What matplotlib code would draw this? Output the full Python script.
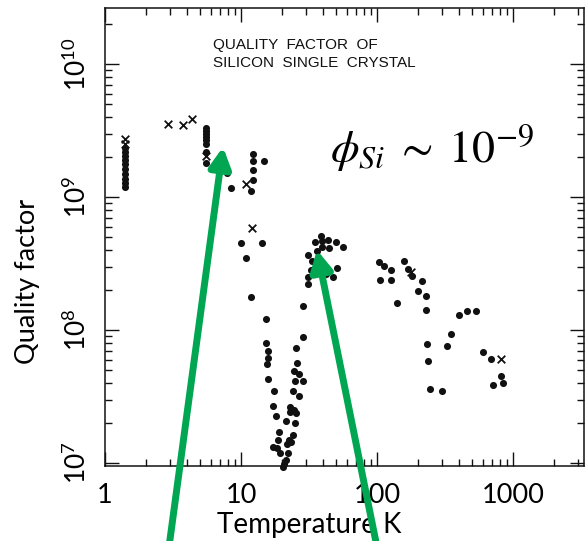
import matplotlib
matplotlib.use('Agg')
import matplotlib.pyplot as plt
from matplotlib import ticker

plt.rcParams['font.family'] = ['Lato', 'DejaVu Sans']
plt.rcParams['mathtext.fontset'] = 'stix'

# measured Q of the silicon crystal vs temperature (K)
dot_T = [
    1.40, 1.40, 1.40, 1.40, 1.40, 1.40, 1.40, 1.40, 1.40, 1.40,
    5.53, 5.53, 5.53, 5.53, 5.53, 5.53, 5.53, 5.53,
    7.89, 8.44, 12.3, 12.3, 12.3, 12.3, 11.8, 14.8, 10.0, 14.3, 10.9, 11.8,
    15.3, 15.3, 15.8, 15.8, 15.5, 15.8, 17.5, 17.2, 18.1, 19.0, 18.7, 17.2,
    18.4, 19.4, 20.4,
    28.6, 28.6, 25.4, 25.8, 24.5, 26.7, 25.0, 28.6, 24.1, 26.7, 22.9, 24.5,
    25.4, 22.9, 21.4, 25.0, 24.1, 22.5, 21.8, 23.3, 22.2, 21.4, 20.7,
    38.7, 35.0, 39.4, 43.6, 50.0, 56.2, 39.4, 44.4, 36.2, 31.1, 33.3, 32.7,
    31.1, 31.1, 50.8, 47.5, 42.2,
    103, 113, 127, 158, 169, 181, 105, 127, 214, 200, 229, 140, 229,
    401, 459, 535, 350, 327, 233, 237, 602, 689, 816, 713, 844, 245, 301,
]
dot_Q = [
    2.34e9, 2.18e9, 2.03e9, 1.90e9, 1.77e9, 1.62e9, 1.49e9, 1.37e9, 1.27e9, 1.19e9,
    3.30e9, 3.14e9, 2.98e9, 2.83e9, 2.68e9, 2.50e9, 2.18e9, 1.80e9,
    1.51e9, 1.17e9, 2.11e9, 1.87e9, 1.60e9, 1.34e9, 1.11e9, 1.87e9, 4.51e8, 4.51e8, 3.48e8, 1.77e8,
    1.21e8, 7.99e7, 6.95e7, 6.16e7, 5.55e7, 4.28e7, 3.48e7, 2.68e7, 2.26e7, 1.71e7, 1.49e7, 1.32e7,
    1.30e7, 1.19e7, 9.33e6,
    1.51e8, 8.86e7, 7.32e7, 5.65e7, 4.92e7, 4.67e7, 4.14e7, 4.14e7, 3.48e7, 3.19e7, 2.64e7, 2.50e7,
    2.38e7, 2.42e7, 2.07e7, 2.00e7, 1.62e7, 1.49e7, 1.39e7, 1.44e7, 1.19e7, 1.05e7, 9.83e6,
    5.09e8, 4.59e8, 4.67e8, 4.75e8, 4.59e8, 4.21e8, 4.21e8, 4.14e8, 3.93e8, 3.66e8, 3.30e8, 2.83e8,
    2.50e8, 2.22e8, 2.92e8, 2.50e8, 2.64e8,
    3.25e8, 3.03e8, 2.83e8, 3.30e8, 2.87e8, 2.55e8, 2.38e8, 2.38e8, 2.34e8, 1.97e8, 1.80e8, 1.60e8, 1.41e8,
    1.30e8, 1.39e8, 1.39e8, 9.33e7, 7.58e7, 7.85e7, 5.85e7, 6.84e7, 6.05e7, 4.51e7, 3.86e7, 4.00e7, 3.60e7, 3.48e7,
]
cross_T = [1.40, 1.40, 2.91, 3.75, 4.36, 5.53, 10.9, 12.0, 178, 816]
cross_Q = [2.73e9, 2.50e9, 3.54e9, 3.48e9, 3.86e9, 2.03e9, 1.25e9, 5.85e8, 2.73e8, 6.05e7]

x_ticks = [1, 10, 100, 1000]
y_ticks = [1e7, 1e8, 1e9, 1e10]

ink = '#111111'
green = '#00a651'

fig = plt.figure(figsize=(5.87, 5.41), dpi=100)
ax = fig.add_axes([0.1789, 0.1386, 0.8160, 0.8466])
ax.set_xscale('log')
ax.set_yscale('log')
ax.set_xlim(1, 3330)
ax.set_ylim(9.5e6, 2.64e10)

ax.scatter(dot_T, dot_Q, s=26, c=ink, marker='o', linewidths=0, clip_on=False, zorder=3)
ax.scatter(cross_T, cross_Q, s=30, c=ink, marker='x', linewidths=1.3, zorder=3)

for side in ax.spines.values():
    side.set_linewidth(1.1)
    side.set_color(ink)

ax.set_xticks(x_ticks)
ax.set_yticks(y_ticks)
ax.xaxis.set_major_formatter(ticker.FuncFormatter(lambda v, _: f'{v:g}'))
ax.tick_params(which='both', direction='in', top=True, right=True, width=1, color=ink)
ax.tick_params(which='major', length=10)
ax.tick_params(which='minor', length=5)
ax.tick_params(axis='x', labelsize=19.5, pad=12)
ax.tick_params(axis='y', labelsize=19, pad=10, labelrotation=90)
plt.setp(ax.get_yticklabels(), va='center')

ax.set_xlabel('Temperature K', fontsize=20)
ax.xaxis.set_label_coords(0.427, -0.10)
ax.set_ylabel('Quality factor', fontsize=19.5)
ax.yaxis.set_label_coords(-0.136, 0.402)

ax.text(0.226, 0.934, 'QUALITY  FACTOR  OF\nSILICON  SINGLE  CRYSTAL',
        transform=ax.transAxes, fontsize=11, family='Liberation Sans',
        va='top', linespacing=1.3, color=ink)
ax.text(0.469, 0.662, r'$\phi_{Si}\;\sim\;10^{-9}$', transform=ax.transAxes,
        fontsize=33, va='baseline')

# two arrows coming up from below the plot
arrow = dict(arrowstyle='-|>,head_length=0.6,head_width=0.32', color=green,
             lw=5, mutation_scale=20, shrinkA=0, shrinkB=0)
ax.annotate('', xy=(7.38, 2.38e9), xytext=(0.288, -0.01), textcoords='figure fraction',
            arrowprops=arrow, annotation_clip=False, zorder=6)
ax.annotate('', xy=(36.2, 4.0e8), xytext=(0.642, -0.01), textcoords='figure fraction',
            arrowprops=arrow, annotation_clip=False, zorder=6)

fig.savefig('out.png', dpi=100)
